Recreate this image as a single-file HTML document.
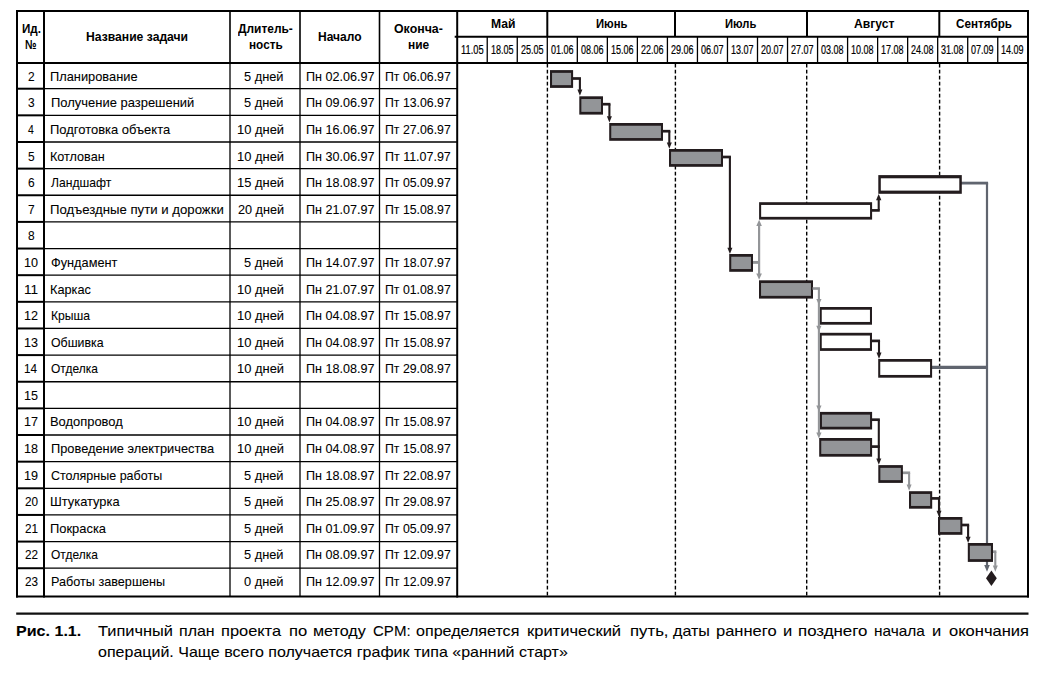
<!DOCTYPE html>
<html lang="ru"><head><meta charset="utf-8"><title>Рис. 1.1</title>
<style>
html,body{margin:0;padding:0;background:#fff}
body{width:1045px;height:674px;position:relative;overflow:hidden;font-family:"Liberation Sans", sans-serif;color:#000}
#chart{position:absolute;left:0;top:0;width:1045px;height:674px}
.t{position:absolute;white-space:nowrap;line-height:20px;transform-origin:0 0;font-size:13px}
.t{-webkit-text-stroke:0.08px #000}
.b{font-weight:700;-webkit-text-stroke:0}
.w{font-size:12px;-webkit-text-stroke:0.2px #000}
.n{font-size:13.5px}
.c{font-size:15px;-webkit-text-stroke:0.08px #000}
</style></head><body>
<svg id="chart" width="1045" height="674" viewBox="0 0 1045 674">
<line x1="17.00" y1="88.70" x2="44.00" y2="88.70" stroke="#000" stroke-width="2.00"/>
<line x1="44.00" y1="88.70" x2="457.20" y2="88.70" stroke="#000" stroke-width="1.30"/>
<line x1="17.00" y1="115.34" x2="44.00" y2="115.34" stroke="#000" stroke-width="2.00"/>
<line x1="44.00" y1="115.34" x2="457.20" y2="115.34" stroke="#000" stroke-width="1.30"/>
<line x1="17.00" y1="141.98" x2="44.00" y2="141.98" stroke="#000" stroke-width="2.00"/>
<line x1="44.00" y1="141.98" x2="457.20" y2="141.98" stroke="#000" stroke-width="1.30"/>
<line x1="17.00" y1="168.62" x2="44.00" y2="168.62" stroke="#000" stroke-width="2.00"/>
<line x1="44.00" y1="168.62" x2="457.20" y2="168.62" stroke="#000" stroke-width="1.30"/>
<line x1="17.00" y1="195.26" x2="44.00" y2="195.26" stroke="#000" stroke-width="2.00"/>
<line x1="44.00" y1="195.26" x2="457.20" y2="195.26" stroke="#000" stroke-width="1.30"/>
<line x1="17.00" y1="221.90" x2="44.00" y2="221.90" stroke="#000" stroke-width="2.00"/>
<line x1="44.00" y1="221.90" x2="457.20" y2="221.90" stroke="#000" stroke-width="1.30"/>
<line x1="17.00" y1="248.54" x2="44.00" y2="248.54" stroke="#000" stroke-width="2.00"/>
<line x1="44.00" y1="248.54" x2="457.20" y2="248.54" stroke="#000" stroke-width="1.30"/>
<line x1="17.00" y1="275.18" x2="44.00" y2="275.18" stroke="#000" stroke-width="2.00"/>
<line x1="44.00" y1="275.18" x2="457.20" y2="275.18" stroke="#000" stroke-width="1.30"/>
<line x1="17.00" y1="301.82" x2="44.00" y2="301.82" stroke="#000" stroke-width="2.00"/>
<line x1="44.00" y1="301.82" x2="457.20" y2="301.82" stroke="#000" stroke-width="1.30"/>
<line x1="17.00" y1="328.46" x2="44.00" y2="328.46" stroke="#000" stroke-width="2.00"/>
<line x1="44.00" y1="328.46" x2="457.20" y2="328.46" stroke="#000" stroke-width="1.30"/>
<line x1="17.00" y1="355.10" x2="44.00" y2="355.10" stroke="#000" stroke-width="2.00"/>
<line x1="44.00" y1="355.10" x2="457.20" y2="355.10" stroke="#000" stroke-width="1.30"/>
<line x1="17.00" y1="381.74" x2="44.00" y2="381.74" stroke="#000" stroke-width="2.00"/>
<line x1="44.00" y1="381.74" x2="457.20" y2="381.74" stroke="#000" stroke-width="1.30"/>
<line x1="17.00" y1="408.38" x2="44.00" y2="408.38" stroke="#000" stroke-width="2.00"/>
<line x1="44.00" y1="408.38" x2="457.20" y2="408.38" stroke="#000" stroke-width="1.30"/>
<line x1="17.00" y1="435.02" x2="44.00" y2="435.02" stroke="#000" stroke-width="2.00"/>
<line x1="44.00" y1="435.02" x2="457.20" y2="435.02" stroke="#000" stroke-width="1.30"/>
<line x1="17.00" y1="461.66" x2="44.00" y2="461.66" stroke="#000" stroke-width="2.00"/>
<line x1="44.00" y1="461.66" x2="457.20" y2="461.66" stroke="#000" stroke-width="1.30"/>
<line x1="17.00" y1="488.30" x2="44.00" y2="488.30" stroke="#000" stroke-width="2.00"/>
<line x1="44.00" y1="488.30" x2="457.20" y2="488.30" stroke="#000" stroke-width="1.30"/>
<line x1="17.00" y1="514.94" x2="44.00" y2="514.94" stroke="#000" stroke-width="2.00"/>
<line x1="44.00" y1="514.94" x2="457.20" y2="514.94" stroke="#000" stroke-width="1.30"/>
<line x1="17.00" y1="541.58" x2="44.00" y2="541.58" stroke="#000" stroke-width="2.00"/>
<line x1="44.00" y1="541.58" x2="457.20" y2="541.58" stroke="#000" stroke-width="1.30"/>
<line x1="17.00" y1="568.22" x2="44.00" y2="568.22" stroke="#000" stroke-width="2.00"/>
<line x1="44.00" y1="568.22" x2="457.20" y2="568.22" stroke="#000" stroke-width="1.30"/>
<line x1="230.00" y1="11.00" x2="230.00" y2="62.80" stroke="#000" stroke-width="1.60"/>
<line x1="230.00" y1="62.80" x2="230.00" y2="596.60" stroke="#000" stroke-width="1.30"/>
<line x1="300.00" y1="11.00" x2="300.00" y2="62.80" stroke="#000" stroke-width="1.60"/>
<line x1="300.00" y1="62.80" x2="300.00" y2="596.60" stroke="#000" stroke-width="1.30"/>
<line x1="379.50" y1="11.00" x2="379.50" y2="62.80" stroke="#000" stroke-width="1.60"/>
<line x1="379.50" y1="62.80" x2="379.50" y2="596.60" stroke="#000" stroke-width="1.30"/>
<line x1="44.00" y1="10.00" x2="44.00" y2="597.60" stroke="#000" stroke-width="2.00"/>
<line x1="17.00" y1="10.00" x2="17.00" y2="597.60" stroke="#000" stroke-width="2.00"/>
<line x1="457.20" y1="10.00" x2="457.20" y2="597.60" stroke="#000" stroke-width="2.00"/>
<line x1="1028.00" y1="10.00" x2="1028.00" y2="597.60" stroke="#000" stroke-width="2.00"/>
<line x1="16.00" y1="11.00" x2="1029.00" y2="11.00" stroke="#000" stroke-width="2.00"/>
<line x1="16.00" y1="596.60" x2="1029.00" y2="596.60" stroke="#000" stroke-width="2.00"/>
<line x1="16.00" y1="63.00" x2="1029.00" y2="63.00" stroke="#000" stroke-width="2.00"/>
<line x1="454.70" y1="36.80" x2="1028.00" y2="36.80" stroke="#000" stroke-width="2.00"/>
<line x1="547.30" y1="11.00" x2="547.30" y2="36.80" stroke="#000" stroke-width="2.00"/>
<line x1="675.00" y1="11.00" x2="675.00" y2="36.80" stroke="#000" stroke-width="2.00"/>
<line x1="807.00" y1="11.00" x2="807.00" y2="36.80" stroke="#000" stroke-width="2.00"/>
<line x1="939.30" y1="11.00" x2="939.30" y2="36.80" stroke="#000" stroke-width="2.00"/>
<line x1="487.23" y1="36.80" x2="487.23" y2="62.80" stroke="#000" stroke-width="1.30"/>
<line x1="517.26" y1="36.80" x2="517.26" y2="62.80" stroke="#000" stroke-width="1.30"/>
<line x1="547.29" y1="36.80" x2="547.29" y2="62.80" stroke="#000" stroke-width="1.30"/>
<line x1="577.32" y1="36.80" x2="577.32" y2="62.80" stroke="#000" stroke-width="1.30"/>
<line x1="607.35" y1="36.80" x2="607.35" y2="62.80" stroke="#000" stroke-width="1.30"/>
<line x1="637.38" y1="36.80" x2="637.38" y2="62.80" stroke="#000" stroke-width="1.30"/>
<line x1="667.41" y1="36.80" x2="667.41" y2="62.80" stroke="#000" stroke-width="1.30"/>
<line x1="697.44" y1="36.80" x2="697.44" y2="62.80" stroke="#000" stroke-width="1.30"/>
<line x1="727.47" y1="36.80" x2="727.47" y2="62.80" stroke="#000" stroke-width="1.30"/>
<line x1="757.50" y1="36.80" x2="757.50" y2="62.80" stroke="#000" stroke-width="1.30"/>
<line x1="787.53" y1="36.80" x2="787.53" y2="62.80" stroke="#000" stroke-width="1.30"/>
<line x1="817.56" y1="36.80" x2="817.56" y2="62.80" stroke="#000" stroke-width="1.30"/>
<line x1="847.59" y1="36.80" x2="847.59" y2="62.80" stroke="#000" stroke-width="1.30"/>
<line x1="877.62" y1="36.80" x2="877.62" y2="62.80" stroke="#000" stroke-width="1.30"/>
<line x1="907.65" y1="36.80" x2="907.65" y2="62.80" stroke="#000" stroke-width="1.30"/>
<line x1="937.68" y1="36.80" x2="937.68" y2="62.80" stroke="#000" stroke-width="1.30"/>
<line x1="967.71" y1="36.80" x2="967.71" y2="62.80" stroke="#000" stroke-width="1.30"/>
<line x1="997.74" y1="36.80" x2="997.74" y2="62.80" stroke="#000" stroke-width="1.30"/>
<line x1="547.40" y1="63.80" x2="547.40" y2="595.60" stroke="#000" stroke-width="1.40" stroke-dasharray="3.8 2.2"/>
<line x1="675.40" y1="63.80" x2="675.40" y2="595.60" stroke="#000" stroke-width="1.40" stroke-dasharray="3.8 2.2"/>
<line x1="806.70" y1="63.80" x2="806.70" y2="595.60" stroke="#000" stroke-width="1.40" stroke-dasharray="3.8 2.2"/>
<line x1="939.60" y1="63.80" x2="939.60" y2="595.60" stroke="#000" stroke-width="1.40" stroke-dasharray="3.8 2.2"/>
<line x1="16.20" y1="613.70" x2="1028.50" y2="613.70" stroke="#111" stroke-width="2.20"/>
<line x1="961.00" y1="183.10" x2="988.10" y2="183.10" stroke="#60656f" stroke-width="2.80"/>
<line x1="987.00" y1="183.10" x2="987.00" y2="566.00" stroke="#60656f" stroke-width="2.20"/>
<polygon points="984.20,565.10 989.80,565.10 987.00,571.70" fill="#60656f"/>
<line x1="931.00" y1="367.40" x2="987.00" y2="367.40" stroke="#60656f" stroke-width="3.10"/>
<line x1="752.00" y1="262.40" x2="759.10" y2="262.40" stroke="#939598" stroke-width="2.90"/>
<line x1="759.10" y1="225.00" x2="759.10" y2="274.00" stroke="#939598" stroke-width="2.20"/>
<polygon points="756.30,226.10 761.90,226.10 759.10,219.80" fill="#939598"/>
<polygon points="756.30,273.50 761.90,273.50 759.10,279.80" fill="#939598"/>
<line x1="902.00" y1="472.80" x2="910.15" y2="472.80" stroke="#939598" stroke-width="2.70"/>
<line x1="909.10" y1="472.80" x2="909.10" y2="485.00" stroke="#939598" stroke-width="2.10"/>
<polygon points="906.60,484.50 911.60,484.50 909.10,490.80" fill="#939598"/>
<line x1="992.00" y1="551.70" x2="996.35" y2="551.70" stroke="#939598" stroke-width="2.70"/>
<line x1="995.30" y1="551.70" x2="995.30" y2="565.90" stroke="#939598" stroke-width="2.10"/>
<polygon points="992.80,565.40 997.80,565.40 995.30,571.70" fill="#939598"/>
<line x1="572.00" y1="78.50" x2="580.95" y2="78.50" stroke="#231c1e" stroke-width="2.70"/>
<line x1="579.90" y1="78.50" x2="579.90" y2="89.90" stroke="#231c1e" stroke-width="2.10"/>
<polygon points="577.40,89.40 582.40,89.40 579.90,95.70" fill="#231c1e"/>
<line x1="602.00" y1="104.20" x2="610.45" y2="104.20" stroke="#231c1e" stroke-width="2.70"/>
<line x1="609.40" y1="104.20" x2="609.40" y2="116.80" stroke="#231c1e" stroke-width="2.10"/>
<polygon points="606.90,116.30 611.90,116.30 609.40,122.60" fill="#231c1e"/>
<line x1="662.00" y1="131.20" x2="670.35" y2="131.20" stroke="#231c1e" stroke-width="2.70"/>
<line x1="669.30" y1="131.20" x2="669.30" y2="143.00" stroke="#231c1e" stroke-width="2.10"/>
<polygon points="666.80,142.50 671.80,142.50 669.30,148.80" fill="#231c1e"/>
<line x1="722.00" y1="157.00" x2="730.95" y2="157.00" stroke="#231c1e" stroke-width="2.70"/>
<line x1="729.90" y1="157.00" x2="729.90" y2="248.20" stroke="#231c1e" stroke-width="2.10"/>
<polygon points="727.40,247.70 732.40,247.70 729.90,254.00" fill="#231c1e"/>
<line x1="871.00" y1="340.90" x2="880.05" y2="340.90" stroke="#231c1e" stroke-width="2.70"/>
<line x1="879.00" y1="340.90" x2="879.00" y2="353.10" stroke="#231c1e" stroke-width="2.10"/>
<polygon points="876.50,352.60 881.50,352.60 879.00,358.90" fill="#231c1e"/>
<line x1="871.00" y1="419.70" x2="879.85" y2="419.70" stroke="#231c1e" stroke-width="2.70"/>
<line x1="878.80" y1="419.70" x2="878.80" y2="459.00" stroke="#231c1e" stroke-width="2.10"/>
<polygon points="876.30,458.50 881.30,458.50 878.80,464.80" fill="#231c1e"/>
<line x1="871.00" y1="446.60" x2="879.80" y2="446.60" stroke="#231c1e" stroke-width="2.70"/>
<line x1="931.00" y1="498.40" x2="940.05" y2="498.40" stroke="#231c1e" stroke-width="2.70"/>
<line x1="939.00" y1="498.40" x2="939.00" y2="511.20" stroke="#231c1e" stroke-width="2.10"/>
<polygon points="936.50,510.70 941.50,510.70 939.00,517.00" fill="#231c1e"/>
<line x1="961.40" y1="525.00" x2="969.15" y2="525.00" stroke="#231c1e" stroke-width="2.70"/>
<line x1="968.10" y1="525.00" x2="968.10" y2="537.20" stroke="#231c1e" stroke-width="2.10"/>
<polygon points="965.60,536.70 970.60,536.70 968.10,543.00" fill="#231c1e"/>
<line x1="871.00" y1="210.40" x2="879.75" y2="210.40" stroke="#231c1e" stroke-width="2.70"/>
<line x1="878.70" y1="210.40" x2="878.70" y2="199.00" stroke="#231c1e" stroke-width="2.10"/>
<polygon points="876.00,200.30 881.40,200.30 878.70,194.00" fill="#231c1e"/>
<rect x="550.00" y="70.10" width="23.10" height="17.80" fill="#231c1e"/>
<rect x="552.05" y="72.85" width="19.00" height="12.30" fill="#939598"/>
<rect x="579.30" y="96.30" width="23.70" height="18.30" fill="#231c1e"/>
<rect x="581.35" y="99.05" width="19.60" height="12.80" fill="#939598"/>
<rect x="609.20" y="123.00" width="53.80" height="17.80" fill="#231c1e"/>
<rect x="611.25" y="125.75" width="49.70" height="12.30" fill="#939598"/>
<rect x="669.00" y="149.00" width="54.00" height="17.80" fill="#231c1e"/>
<rect x="671.05" y="151.75" width="49.90" height="12.30" fill="#939598"/>
<rect x="878.30" y="175.10" width="83.50" height="18.70" fill="#231c1e"/>
<rect x="880.80" y="178.30" width="78.50" height="12.30" fill="#fff"/>
<rect x="759.10" y="202.20" width="113.00" height="17.40" fill="#231c1e"/>
<rect x="761.15" y="204.95" width="108.90" height="11.90" fill="#fff"/>
<rect x="729.20" y="254.00" width="23.80" height="17.80" fill="#231c1e"/>
<rect x="731.25" y="256.75" width="19.70" height="12.30" fill="#939598"/>
<rect x="759.00" y="280.30" width="54.00" height="18.30" fill="#231c1e"/>
<rect x="761.05" y="283.05" width="49.90" height="12.80" fill="#939598"/>
<rect x="819.70" y="307.00" width="52.30" height="17.70" fill="#231c1e"/>
<rect x="821.75" y="309.75" width="48.20" height="12.20" fill="#fff"/>
<rect x="819.70" y="332.80" width="52.30" height="18.10" fill="#231c1e"/>
<rect x="821.75" y="335.55" width="48.20" height="12.60" fill="#fff"/>
<rect x="878.20" y="359.00" width="53.90" height="18.70" fill="#231c1e"/>
<rect x="880.25" y="361.75" width="49.80" height="13.20" fill="#fff"/>
<rect x="819.90" y="411.90" width="52.20" height="17.60" fill="#231c1e"/>
<rect x="821.95" y="414.65" width="48.10" height="12.10" fill="#939598"/>
<rect x="819.20" y="438.00" width="52.90" height="18.70" fill="#231c1e"/>
<rect x="821.25" y="440.75" width="48.80" height="13.20" fill="#939598"/>
<rect x="878.30" y="465.10" width="24.60" height="17.80" fill="#231c1e"/>
<rect x="880.35" y="467.85" width="20.50" height="12.30" fill="#939598"/>
<rect x="909.00" y="491.20" width="23.20" height="17.50" fill="#231c1e"/>
<rect x="911.05" y="493.95" width="19.10" height="12.00" fill="#939598"/>
<rect x="938.00" y="517.00" width="24.40" height="17.80" fill="#231c1e"/>
<rect x="940.05" y="519.75" width="20.30" height="12.30" fill="#939598"/>
<rect x="967.80" y="543.00" width="25.20" height="18.90" fill="#231c1e"/>
<rect x="969.85" y="545.75" width="21.10" height="13.40" fill="#939598"/>
<line x1="812.50" y1="288.50" x2="819.95" y2="288.50" stroke="#939598" stroke-width="2.60"/>
<line x1="818.90" y1="288.50" x2="818.90" y2="433.00" stroke="#939598" stroke-width="2.10"/>
<polygon points="816.30,299.00 821.50,299.00 818.90,305.00" fill="#939598"/>
<polygon points="816.30,325.80 821.50,325.80 818.90,331.80" fill="#939598"/>
<polygon points="816.30,405.50 821.50,405.50 818.90,411.50" fill="#939598"/>
<polygon points="816.30,432.40 821.50,432.40 818.90,438.40" fill="#939598"/>
<polygon points="991.40,570.40 996.80,578.20 991.40,586.00 986.00,578.20" fill="#231c1e"/>
</svg>
<span class="t b" style="left:22.00px;top:19px;transform:scaleX(0.8934)">Ид.</span>
<span class="t b" style="left:24.90px;top:35px;transform:scaleX(0.7929)">№</span>
<span class="t b" style="left:85.70px;top:27px;transform:scaleX(0.9350)">Название задачи</span>
<span class="t b" style="left:238.00px;top:19px;transform:scaleX(0.9182)">Длитель-</span>
<span class="t b" style="left:248.60px;top:35px;transform:scaleX(0.9055)">ность</span>
<span class="t b" style="left:317.60px;top:27px;transform:scaleX(0.9245)">Начало</span>
<span class="t b" style="left:393.90px;top:19px;transform:scaleX(0.9507)">Оконча-</span>
<span class="t b" style="left:407.60px;top:35px;transform:scaleX(0.9193)">ние</span>
<span class="t b" style="left:490.50px;top:14px;transform:scaleX(0.9345)">Май</span>
<span class="t b" style="left:596.30px;top:14px;transform:scaleX(0.8678)">Июнь</span>
<span class="t b" style="left:725.40px;top:14px;transform:scaleX(0.8631)">Июль</span>
<span class="t b" style="left:854.20px;top:14px;transform:scaleX(0.9341)">Август</span>
<span class="t b" style="left:956.00px;top:14px;transform:scaleX(0.8975)">Сентябрь</span>
<span class="t w" style="left:460.81px;top:40px;transform:scaleX(0.7738)">11.05</span>
<span class="t w" style="left:490.85px;top:40px;transform:scaleX(0.7511)">18.05</span>
<span class="t w" style="left:520.88px;top:40px;transform:scaleX(0.7511)">25.05</span>
<span class="t w" style="left:550.90px;top:40px;transform:scaleX(0.7511)">01.06</span>
<span class="t w" style="left:580.94px;top:40px;transform:scaleX(0.7511)">08.06</span>
<span class="t w" style="left:610.97px;top:40px;transform:scaleX(0.7511)">15.06</span>
<span class="t w" style="left:641.00px;top:40px;transform:scaleX(0.7511)">22.06</span>
<span class="t w" style="left:671.02px;top:40px;transform:scaleX(0.7511)">29.06</span>
<span class="t w" style="left:701.05px;top:40px;transform:scaleX(0.7511)">06.07</span>
<span class="t w" style="left:731.09px;top:40px;transform:scaleX(0.7511)">13.07</span>
<span class="t w" style="left:761.12px;top:40px;transform:scaleX(0.7511)">20.07</span>
<span class="t w" style="left:791.15px;top:40px;transform:scaleX(0.7511)">27.07</span>
<span class="t w" style="left:821.18px;top:40px;transform:scaleX(0.7511)">03.08</span>
<span class="t w" style="left:851.21px;top:40px;transform:scaleX(0.7511)">10.08</span>
<span class="t w" style="left:881.24px;top:40px;transform:scaleX(0.7511)">17.08</span>
<span class="t w" style="left:911.26px;top:40px;transform:scaleX(0.7511)">24.08</span>
<span class="t w" style="left:941.29px;top:40px;transform:scaleX(0.7511)">31.08</span>
<span class="t w" style="left:971.32px;top:40px;transform:scaleX(0.7511)">07.09</span>
<span class="t w" style="left:1001.36px;top:40px;transform:scaleX(0.7511)">14.09</span>
<span class="t n" style="left:28.30px;top:67px;transform:scaleX(0.8857)">2</span>
<span class="t" style="left:49.71px;top:67px;transform:scaleX(0.9864)">Планирование</span>
<span class="t n" style="left:244.40px;top:67px;transform:scaleX(0.9489)">5 дней</span>
<span class="t n" style="left:305.67px;top:67px;transform:scaleX(0.9312)">Пн 02.06.97</span>
<span class="t n" style="left:384.99px;top:67px;transform:scaleX(0.9112)">Пт 06.06.97</span>
<span class="t n" style="left:28.30px;top:93px;transform:scaleX(0.8857)">3</span>
<span class="t" style="left:50.60px;top:93px;transform:scaleX(0.9972)">Получение разрешений</span>
<span class="t n" style="left:244.40px;top:93px;transform:scaleX(0.9489)">5 дней</span>
<span class="t n" style="left:305.67px;top:93px;transform:scaleX(0.9312)">Пн 09.06.97</span>
<span class="t n" style="left:384.99px;top:93px;transform:scaleX(0.9112)">Пт 13.06.97</span>
<span class="t n" style="left:28.30px;top:120px;transform:scaleX(0.7750)">4</span>
<span class="t" style="left:49.70px;top:120px;transform:scaleX(0.9969)">Подготовка объекта</span>
<span class="t n" style="left:236.84px;top:120px;transform:scaleX(0.9578)">10 дней</span>
<span class="t n" style="left:305.67px;top:120px;transform:scaleX(0.9312)">Пн 16.06.97</span>
<span class="t n" style="left:384.99px;top:120px;transform:scaleX(0.9112)">Пт 27.06.97</span>
<span class="t n" style="left:28.30px;top:147px;transform:scaleX(0.8857)">5</span>
<span class="t" style="left:49.73px;top:147px;transform:scaleX(0.9703)">Котлован</span>
<span class="t n" style="left:236.84px;top:147px;transform:scaleX(0.9578)">10 дней</span>
<span class="t n" style="left:305.67px;top:147px;transform:scaleX(0.9312)">Пн 30.06.97</span>
<span class="t n" style="left:384.98px;top:147px;transform:scaleX(0.9243)">Пт 11.07.97</span>
<span class="t n" style="left:28.30px;top:173px;transform:scaleX(0.8857)">6</span>
<span class="t" style="left:50.70px;top:173px;transform:scaleX(0.9335)">Ландшафт</span>
<span class="t n" style="left:236.84px;top:173px;transform:scaleX(0.9578)">15 дней</span>
<span class="t n" style="left:305.67px;top:173px;transform:scaleX(0.9312)">Пн 18.08.97</span>
<span class="t n" style="left:384.99px;top:173px;transform:scaleX(0.9112)">Пт 05.09.97</span>
<span class="t n" style="left:28.30px;top:200px;transform:scaleX(0.8857)">7</span>
<span class="t" style="left:49.69px;top:200px;transform:scaleX(1.0145)">Подъездные пути и дорожки</span>
<span class="t n" style="left:237.80px;top:200px;transform:scaleX(0.9381)">20 дней</span>
<span class="t n" style="left:305.67px;top:200px;transform:scaleX(0.9312)">Пн 21.07.97</span>
<span class="t n" style="left:384.99px;top:200px;transform:scaleX(0.9112)">Пт 15.08.97</span>
<span class="t n" style="left:28.30px;top:226px;transform:scaleX(0.8857)">8</span>
<span class="t n" style="left:24.27px;top:253px;transform:scaleX(0.9328)">10</span>
<span class="t" style="left:50.70px;top:253px;transform:scaleX(0.9804)">Фундамент</span>
<span class="t n" style="left:244.40px;top:253px;transform:scaleX(0.9489)">5 дней</span>
<span class="t n" style="left:305.67px;top:253px;transform:scaleX(0.9312)">Пн 14.07.97</span>
<span class="t n" style="left:384.99px;top:253px;transform:scaleX(0.9112)">Пт 18.07.97</span>
<span class="t n" style="left:24.19px;top:280px;transform:scaleX(1.0075)">11</span>
<span class="t" style="left:49.72px;top:280px;transform:scaleX(0.9797)">Каркас</span>
<span class="t n" style="left:236.84px;top:280px;transform:scaleX(0.9578)">10 дней</span>
<span class="t n" style="left:305.67px;top:280px;transform:scaleX(0.9312)">Пн 21.07.97</span>
<span class="t n" style="left:384.99px;top:280px;transform:scaleX(0.9112)">Пт 01.08.97</span>
<span class="t n" style="left:24.27px;top:306px;transform:scaleX(0.9328)">12</span>
<span class="t" style="left:50.66px;top:306px;transform:scaleX(0.9356)">Крыша</span>
<span class="t n" style="left:236.84px;top:306px;transform:scaleX(0.9578)">10 дней</span>
<span class="t n" style="left:305.67px;top:306px;transform:scaleX(0.9312)">Пн 04.08.97</span>
<span class="t n" style="left:384.99px;top:306px;transform:scaleX(0.9112)">Пт 15.08.97</span>
<span class="t n" style="left:24.27px;top:333px;transform:scaleX(0.9328)">13</span>
<span class="t" style="left:50.70px;top:333px;transform:scaleX(0.9496)">Обшивка</span>
<span class="t n" style="left:236.84px;top:333px;transform:scaleX(0.9578)">10 дней</span>
<span class="t n" style="left:305.67px;top:333px;transform:scaleX(0.9312)">Пн 04.08.97</span>
<span class="t n" style="left:384.99px;top:333px;transform:scaleX(0.9112)">Пт 15.08.97</span>
<span class="t n" style="left:24.33px;top:359px;transform:scaleX(0.8685)">14</span>
<span class="t" style="left:50.70px;top:359px;transform:scaleX(0.9210)">Отделка</span>
<span class="t n" style="left:236.84px;top:359px;transform:scaleX(0.9578)">10 дней</span>
<span class="t n" style="left:305.67px;top:359px;transform:scaleX(0.9312)">Пн 18.08.97</span>
<span class="t n" style="left:384.99px;top:359px;transform:scaleX(0.9112)">Пт 29.08.97</span>
<span class="t n" style="left:24.27px;top:386px;transform:scaleX(0.9328)">15</span>
<span class="t n" style="left:24.27px;top:412px;transform:scaleX(0.9328)">17</span>
<span class="t" style="left:49.71px;top:412px;transform:scaleX(0.9940)">Водопровод</span>
<span class="t n" style="left:236.84px;top:412px;transform:scaleX(0.9578)">10 дней</span>
<span class="t n" style="left:305.67px;top:412px;transform:scaleX(0.9312)">Пн 04.08.97</span>
<span class="t n" style="left:384.99px;top:412px;transform:scaleX(0.9112)">Пт 15.08.97</span>
<span class="t n" style="left:24.27px;top:439px;transform:scaleX(0.9328)">18</span>
<span class="t" style="left:50.61px;top:439px;transform:scaleX(0.9857)">Проведение электричества</span>
<span class="t n" style="left:236.84px;top:439px;transform:scaleX(0.9578)">10 дней</span>
<span class="t n" style="left:305.67px;top:439px;transform:scaleX(0.9312)">Пн 04.08.97</span>
<span class="t n" style="left:384.99px;top:439px;transform:scaleX(0.9112)">Пт 15.08.97</span>
<span class="t n" style="left:24.27px;top:466px;transform:scaleX(0.9328)">19</span>
<span class="t" style="left:50.70px;top:466px;transform:scaleX(0.9621)">Столярные работы</span>
<span class="t n" style="left:244.40px;top:466px;transform:scaleX(0.9489)">5 дней</span>
<span class="t n" style="left:305.67px;top:466px;transform:scaleX(0.9312)">Пн 18.08.97</span>
<span class="t n" style="left:384.99px;top:466px;transform:scaleX(0.9112)">Пт 22.08.97</span>
<span class="t n" style="left:25.20px;top:492px;transform:scaleX(0.8685)">20</span>
<span class="t" style="left:49.71px;top:492px;transform:scaleX(0.9887)">Штукатурка</span>
<span class="t n" style="left:244.40px;top:492px;transform:scaleX(0.9489)">5 дней</span>
<span class="t n" style="left:305.67px;top:492px;transform:scaleX(0.9312)">Пн 25.08.97</span>
<span class="t n" style="left:384.99px;top:492px;transform:scaleX(0.9112)">Пт 29.08.97</span>
<span class="t n" style="left:25.20px;top:519px;transform:scaleX(0.8685)">21</span>
<span class="t" style="left:49.71px;top:519px;transform:scaleX(0.9930)">Покраска</span>
<span class="t n" style="left:244.40px;top:519px;transform:scaleX(0.9489)">5 дней</span>
<span class="t n" style="left:305.67px;top:519px;transform:scaleX(0.9312)">Пн 01.09.97</span>
<span class="t n" style="left:384.99px;top:519px;transform:scaleX(0.9112)">Пт 05.09.97</span>
<span class="t n" style="left:25.20px;top:545px;transform:scaleX(0.8685)">22</span>
<span class="t" style="left:50.70px;top:545px;transform:scaleX(0.9210)">Отделка</span>
<span class="t n" style="left:244.40px;top:545px;transform:scaleX(0.9489)">5 дней</span>
<span class="t n" style="left:305.67px;top:545px;transform:scaleX(0.9312)">Пн 08.09.97</span>
<span class="t n" style="left:384.99px;top:545px;transform:scaleX(0.9112)">Пт 12.09.97</span>
<span class="t n" style="left:25.20px;top:572px;transform:scaleX(0.8685)">23</span>
<span class="t" style="left:50.63px;top:572px;transform:scaleX(0.9723)">Работы завершены</span>
<span class="t n" style="left:244.40px;top:572px;transform:scaleX(0.9489)">0 дней</span>
<span class="t n" style="left:305.67px;top:572px;transform:scaleX(0.9312)">Пн 12.09.97</span>
<span class="t n" style="left:384.99px;top:572px;transform:scaleX(0.9112)">Пт 12.09.97</span>
<span class="t b c" style="left:16.33px;top:621px;transform:scaleX(1.0710)">Рис. 1.1.</span>
<span class="t c" style="left:97.50px;top:642px;transform:scaleX(1.0675)">операций. Чаще всего получается график типа «ранний старт»</span>
<span class="t c" style="left:97.50px;top:621px;transform:scaleX(1.0928)">Типичный</span>
<span class="t c" style="left:179.04px;top:621px;transform:scaleX(1.0646)">план</span>
<span class="t c" style="left:220.81px;top:621px;transform:scaleX(1.0938)">проекта</span>
<span class="t c" style="left:288.70px;top:621px;transform:scaleX(1.1043)">по</span>
<span class="t c" style="left:312.83px;top:621px;transform:scaleX(1.0736)">методу</span>
<span class="t c" style="left:372.80px;top:621px;transform:scaleX(1.0019)">CPM:</span>
<span class="t c" style="left:415.90px;top:621px;transform:scaleX(1.0712)">определяется</span>
<span class="t c" style="left:527.03px;top:621px;transform:scaleX(1.1000)">критический</span>
<span class="t c" style="left:629.78px;top:621px;transform:scaleX(1.1174)">путь,</span>
<span class="t c" style="left:673.20px;top:621px;transform:scaleX(1.0733)">даты</span>
<span class="t c" style="left:716.30px;top:621px;transform:scaleX(1.0998)">раннего</span>
<span class="t c" style="left:783.30px;top:621px;transform:scaleX(1.1000)">и</span>
<span class="t c" style="left:797.58px;top:621px;transform:scaleX(1.1248)">позднего</span>
<span class="t c" style="left:873.57px;top:621px;transform:scaleX(1.0263)">начала</span>
<span class="t c" style="left:931.95px;top:621px;transform:scaleX(1.1000)">и</span>
<span class="t c" style="left:948.50px;top:621px;transform:scaleX(1.1004)">окончания</span>
</body></html>
